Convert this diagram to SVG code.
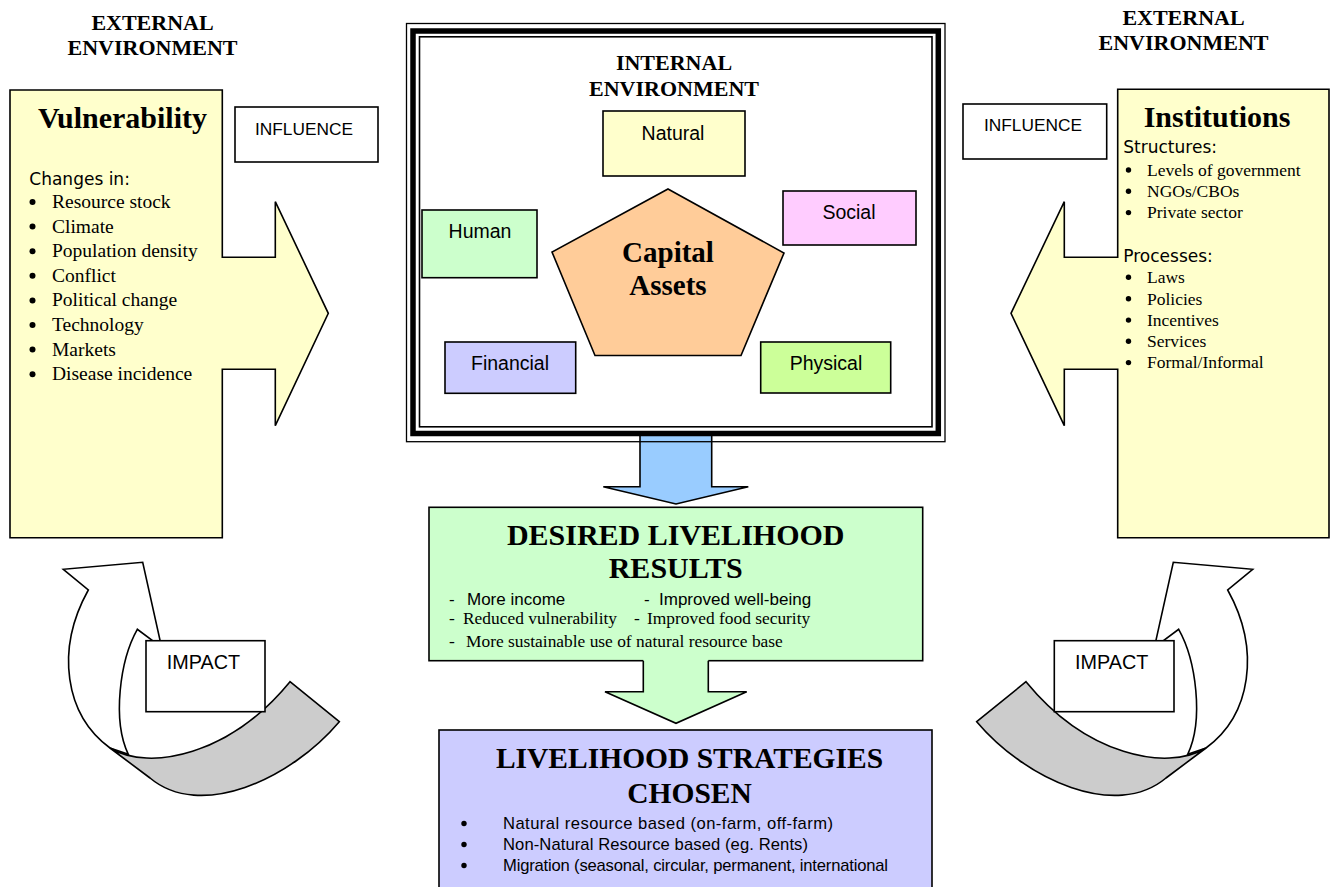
<svg xmlns="http://www.w3.org/2000/svg" xmlns:xlink="http://www.w3.org/1999/xlink" width="1330" height="887" viewBox="0 0 1330 887">
<style>
.bx{stroke:#000;stroke-width:1.6}
.ln{fill:none;stroke:#000;stroke-width:1.6}
.sans{font-family:"Liberation Sans",Arial,sans-serif;fill:#000}
.serif{font-family:"Liberation Serif","Times New Roman",serif;fill:#000}
.verd{font-family:"DejaVu Sans",Verdana,sans-serif;fill:#000}
.hd{font-family:"Liberation Serif","Times New Roman",serif;font-weight:bold;fill:#000}
.mid{text-anchor:middle}
</style>
<defs>
<g id="curl">
<path class="bx" fill="#fff" d="M110,748 C65,715 55,650 88.3,590 L63.3,569.3 L142.7,562.3 L161.6,647.4 L137.3,629.3 C120,660 112,720 128.3,754.3 Z"/>
<path class="bx" fill="#ccc" d="M110,748 C150,772 230,755 290,681.7 L339.3,721.7 C290,780 200,820 150,778 Z"/>
</g>
</defs>
<rect width="1330" height="887" fill="#fff"/>

<g id="ext-left">
<text class="hd mid" font-size="22" x="152.5" y="30">EXTERNAL</text>
<text class="hd mid" font-size="22" x="152.5" y="55">ENVIRONMENT</text>
</g>
<g id="ext-right">
<text class="hd mid" font-size="22" x="1183.5" y="25">EXTERNAL</text>
<text class="hd mid" font-size="22" x="1183.5" y="50">ENVIRONMENT</text>
</g>

<g id="vulnerability">
<path class="bx" fill="#ffffcc" d="M10,90 H222.3 V257.3 H275.3 V201.7 L328.3,313.3 L275.3,425.7 V369.3 H222.3 V537.7 H10 Z"/>
<text class="hd mid" font-size="30" x="122.5" y="128">Vulnerability</text>
<text class="verd" font-size="17" x="29.3" y="185">Changes in:</text>
<g class="serif" font-size="19.5">
<text x="52" y="208">Resource stock</text>
<text x="52" y="232.6">Climate</text>
<text x="52" y="257.2">Population density</text>
<text x="52" y="281.8">Conflict</text>
<text x="52" y="306.4">Political change</text>
<text x="52" y="331">Technology</text>
<text x="52" y="355.6">Markets</text>
<text x="52" y="380.2">Disease incidence</text>
</g>
<g fill="#000">
<circle cx="32.5" cy="202" r="3"/><circle cx="32.5" cy="226.6" r="3"/><circle cx="32.5" cy="251.2" r="3"/><circle cx="32.5" cy="275.8" r="3"/>
<circle cx="32.5" cy="300.4" r="3"/><circle cx="32.5" cy="325" r="3"/><circle cx="32.5" cy="349.6" r="3"/><circle cx="32.5" cy="374.2" r="3"/>
</g>
</g>

<g id="influence-left">
<rect class="bx" fill="#fff" x="235" y="107" width="143" height="55"/>
<text class="sans mid" font-size="17.3" x="304" y="135">INFLUENCE</text>
</g>

<g id="institutions">
<path class="bx" fill="#ffffcc" d="M1329,89.3 H1117.7 V257.3 H1064.3 V201.7 L1011,313.3 L1064.3,425.7 V369.3 H1117.7 V537.7 H1329 Z"/>
<text class="hd mid" font-size="30" x="1217" y="126.7">Institutions</text>
<text class="verd" font-size="17" x="1123.3" y="153">Structures:</text>
<text class="verd" font-size="17" x="1123.3" y="261.7">Processes:</text>
<g class="serif" font-size="17.5">
<text x="1147" y="175.7">Levels of government</text>
<text x="1147" y="197">NGOs/CBOs</text>
<text x="1147" y="218.3">Private sector</text>
<text x="1147" y="283">Laws</text>
<text x="1147" y="304.5">Policies</text>
<text x="1147" y="325.8">Incentives</text>
<text x="1147" y="347">Services</text>
<text x="1147" y="368.3">Formal/Informal</text>
</g>
<g fill="#000">
<circle cx="1128.5" cy="170" r="2.7"/><circle cx="1128.5" cy="191.3" r="2.7"/><circle cx="1128.5" cy="212.6" r="2.7"/>
<circle cx="1128.5" cy="277.3" r="2.7"/><circle cx="1128.5" cy="298.8" r="2.7"/><circle cx="1128.5" cy="320.1" r="2.7"/><circle cx="1128.5" cy="341.3" r="2.7"/><circle cx="1128.5" cy="362.6" r="2.7"/>
</g>
</g>

<g id="influence-right">
<rect class="bx" fill="#fff" x="963" y="104" width="143.7" height="55"/>
<text class="sans mid" font-size="17.3" x="1033" y="131">INFLUENCE</text>
</g>

<g id="internal-environment">
<rect x="419.5" y="36.5" width="512.5" height="390" fill="#fff"/>
<g id="connectors">
<path class="bx" fill="#99ccff" d="M640,432 V486.7 H603.3 L676,504 L748.3,486.7 H711.7 V432 Z"/>
</g>
<rect x="406.5" y="23.5" width="538.5" height="418.2" fill="none" stroke="#000" stroke-width="1.3"/>
<rect x="413" y="31" width="525.3" height="402.5" fill="none" stroke="#000" stroke-width="5.5"/>
<rect x="419.5" y="36.8" width="512.5" height="390" fill="none" stroke="#000" stroke-width="1.6"/>
<text class="hd mid" font-size="22" x="674" y="70">INTERNAL</text>
<text class="hd mid" font-size="22" x="674" y="95.5">ENVIRONMENT</text>
</g>

<g id="natural">
<rect class="bx" fill="#ffffcc" x="603" y="111" width="142" height="65"/>
<text class="sans mid" font-size="19.5" x="673" y="140">Natural</text>
</g>
<g id="social">
<rect class="bx" fill="#ffccff" x="783" y="191" width="133" height="54"/>
<text class="sans mid" font-size="19.5" x="849" y="219">Social</text>
</g>
<g id="human">
<rect class="bx" fill="#ccffcc" x="422" y="210" width="115" height="67.7"/>
<text class="sans mid" font-size="19.5" x="480" y="238">Human</text>
</g>
<g id="financial">
<rect class="bx" fill="#ccccff" x="445" y="342" width="130.7" height="51.3"/>
<text class="sans mid" font-size="19.5" x="510" y="370">Financial</text>
</g>
<g id="physical">
<rect class="bx" fill="#ccff99" x="760.7" y="342" width="130" height="51"/>
<text class="sans mid" font-size="19.5" x="826" y="370">Physical</text>
</g>
<g id="capital-assets">
<polygon class="bx" fill="#ffcc99" points="668,189 784,253 741,355.5 595,355.5 552,252"/>
<text class="hd mid" font-size="29" x="668" y="262">Capital</text>
<text class="hd mid" font-size="29" x="668" y="295">Assets</text>
</g>

<g id="desired-results">
<rect class="bx" fill="#ccffcc" x="429" y="507.3" width="493.7" height="153.4"/>
<text class="hd mid" font-size="30" x="675.7" y="545">DESIRED LIVELIHOOD</text>
<text class="hd mid" font-size="30" x="675.7" y="578.3">RESULTS</text>
<g class="sans" font-size="17">
<text x="449" y="605">-</text><text x="467" y="605">More income</text>
<text x="644" y="605">-</text><text x="659" y="605">Improved well-being</text>
</g>
<g class="serif" font-size="17.4">
<text x="449" y="624">-</text><text x="463" y="624">Reduced vulnerability</text>
<text x="634" y="624">-</text><text x="647" y="624">Improved food security</text>
<text x="449" y="647">-</text><text x="466" y="647">More sustainable use of natural resource base</text>
</g>
</g>

<g id="connectors2">
<path fill="#ccffcc" d="M643.3,659 V691.7 H605 L676,723.3 L746.7,691.7 H708.3 V659 Z"/>
<path class="ln" d="M643.3,660.7 V691.7 H605 L676,723.3 L746.7,691.7 H708.3 V660.7"/>
</g>

<g id="strategies">
<rect class="bx" fill="#ccccff" x="439" y="730" width="493" height="170"/>
<text class="hd mid" font-size="29.5" x="689.5" y="768">LIVELIHOOD STRATEGIES</text>
<text class="hd mid" font-size="29.5" x="689.5" y="803">CHOSEN</text>
<g class="sans" font-size="16.6">
<text x="503" y="829" textLength="330">Natural resource based (on-farm, off-farm)</text>
<text x="503" y="850" textLength="305">Non-Natural Resource based (eg. Rents)</text>
<text x="503" y="871" textLength="385">Migration (seasonal, circular, permanent, international</text>
</g>
<g fill="#000">
<circle cx="464" cy="823.5" r="2.7"/><circle cx="464" cy="844.5" r="2.7"/><circle cx="464" cy="865.5" r="2.7"/>
</g>
</g>

<g id="impact-left">
<use xlink:href="#curl"/>
<rect class="bx" fill="#fff" x="146" y="640.7" width="119" height="71"/>
<text class="sans mid" font-size="19.8" x="203.5" y="669.3">IMPACT</text>
</g>
<g id="impact-right">
<use xlink:href="#curl" transform="translate(1316,0) scale(-1,1)"/>
<rect class="bx" fill="#fff" x="1054.3" y="640.7" width="119.7" height="71"/>
<text class="sans mid" font-size="19.8" x="1111.7" y="669.3">IMPACT</text>
</g>
</svg>
